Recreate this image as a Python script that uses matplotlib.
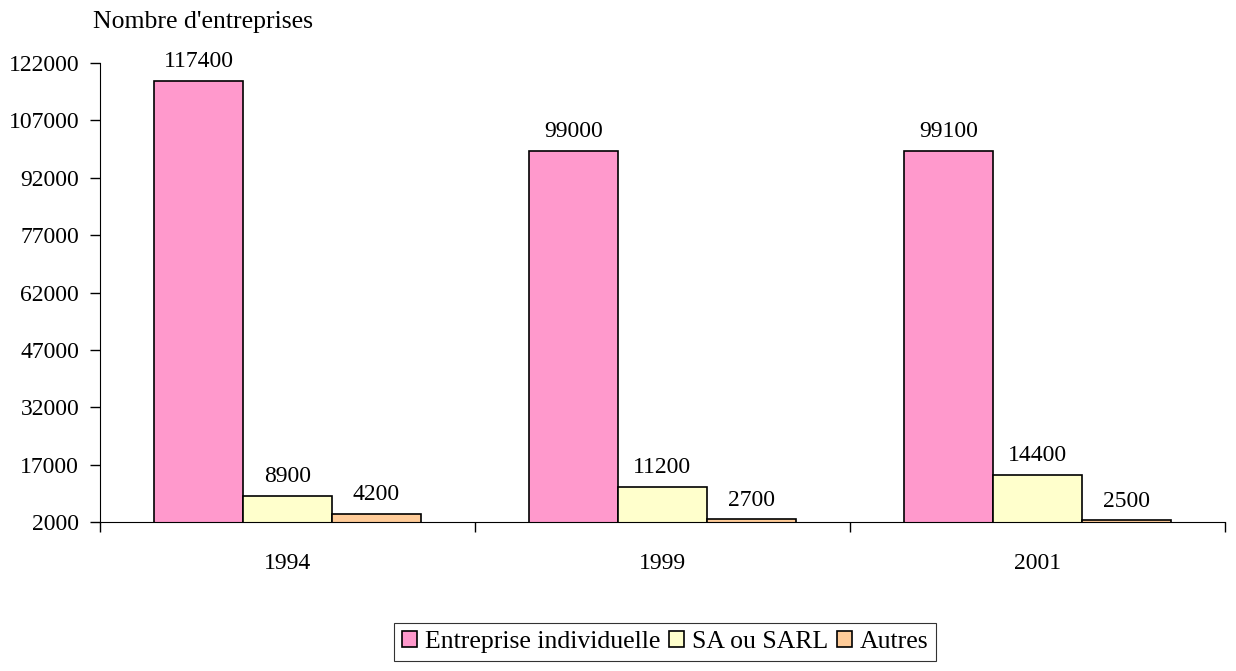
import numpy as np
import matplotlib.pyplot as plt

plt.rcParams['font.family'] = ['Liberation Serif', 'DejaVu Serif']

# donnees
annees = ['1994', '1999', '2001']
individuelle = [117400, 99000, 99100]
sa_sarl = [8900, 11200, 14400]
autres = [4200, 2700, 2500]
series = ['Entreprise individuelle', 'SA ou SARL', 'Autres']
couleurs = ['#FF99CC', '#FFFFCC', '#FFCC99']

fig = plt.figure(figsize=(12.36, 6.71), dpi=100)
ax = fig.add_axes([0.0809, 0.222, 0.910, 0.684])

x = np.arange(len(annees))
w = 0.237
handles = []
for i, (vals, col, nom) in enumerate(zip([individuelle, sa_sarl, autres], couleurs, series)):
    pos = x + (i - 1) * w
    b = ax.bar(pos, vals, width=w, color=col, edgecolor='black', linewidth=1.2, label=nom)
    handles.append(b)
    for p, v in zip(pos, vals):
        ax.text(p, v + 5000, str(v), ha='center', va='center', fontsize=17)

ax.set_ylim(2000, 122000)
ax.set_yticks(np.arange(2000, 122001, 15000))
ax.set_xlim(-0.5, len(annees) - 0.5)
ax.set_xticks(x)
ax.set_xticklabels(annees)
ax.set_xticks(np.arange(-0.5, len(annees), 1), minor=True)
ax.tick_params(axis='x', which='major', length=0, pad=22, labelsize=17)
ax.tick_params(axis='x', which='minor', length=7, direction='out', width=1)
ax.tick_params(axis='y', length=7, width=1, labelsize=17, pad=8)
ax.spines['top'].set_visible(False)
ax.spines['right'].set_visible(False)

fig.text(0.075, 0.967, "Nombre d'entreprises", fontsize=18.5, ha='left', va='center')

leg = fig.legend(handles=handles, loc='center', bbox_to_anchor=(0.538, 0.043), ncol=3,
                 frameon=True, fancybox=False, edgecolor='black', fontsize=18.5,
                 handlelength=0.58, handleheight=0.58, handletextpad=0.3, columnspacing=0.35,
                 borderpad=0.3, borderaxespad=0)
leg.get_frame().set_linewidth(0.8)

fig.savefig('out.png', dpi=100)
